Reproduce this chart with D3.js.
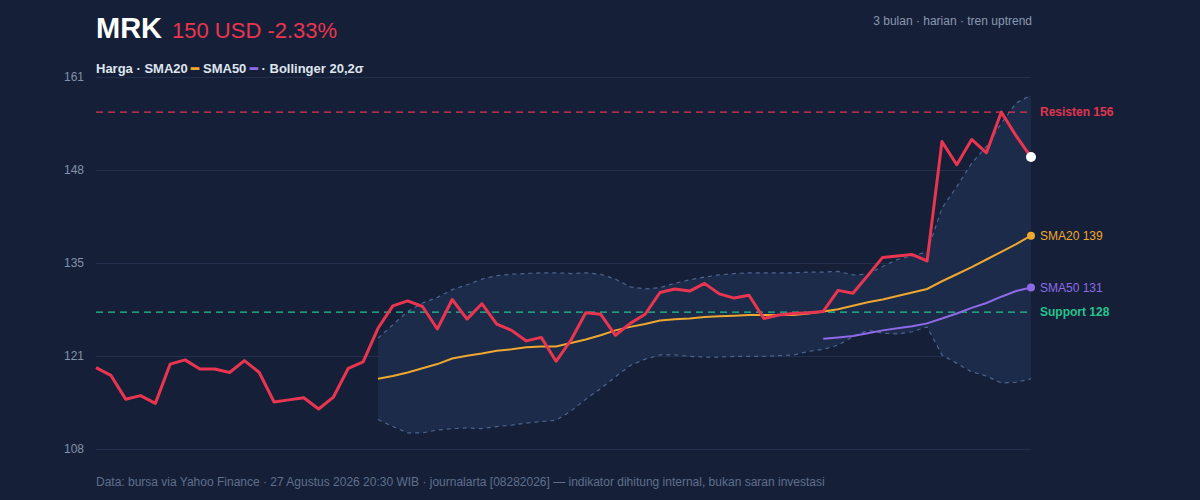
<!DOCTYPE html>
<html>
<head>
<meta charset="utf-8">
<script src="https://cdn.jsdelivr.net/npm/d3@7"></script>
<style>
  body { margin: 0; background: #152038; }
  svg { display: block; font-family: "Helvetica Neue", Arial, "Liberation Sans", sans-serif; }
</style>
</head>
<body>
<svg id="chart" width="1200" height="500"></svg>
<script>
// harga penutupan harian (64 hari)
const price = [119.6, 118.5, 115.1, 115.6, 114.5, 120.1, 120.7, 119.4, 119.4, 118.9,
  120.6, 118.9, 114.7, 115.0, 115.3, 113.7, 115.4, 119.5, 120.4, 125.2,
  128.4, 129.1, 128.3, 125.1, 129.3, 126.5, 128.7, 125.8, 124.9, 123.4,
  123.9, 120.5, 123.5, 127.4, 127.2, 124.2, 125.9, 127.2, 130.3, 130.8,
  130.5, 131.6, 130.1, 129.5, 129.9, 126.6, 127.1, 127.3, 127.4, 127.6,
  130.6, 130.2, 132.7, 135.3, 135.5, 135.7, 134.8, 151.8, 148.5, 152.1,
  150.2, 156.0, 152.6, 149.6];
// SMA20 mulai hari ke-19
const sma20Start = 19;
const sma20 = [118.0, 118.4, 118.9, 119.5, 120.1, 120.9, 121.3, 121.6, 122.0, 122.2,
  122.5, 122.6, 122.6, 123.1, 123.6, 124.2, 124.9, 125.4, 125.8, 126.3,
  126.5, 126.6, 126.8, 126.9, 127.0, 127.1, 127.1, 127.1, 127.1, 127.3,
  127.6, 127.9, 128.4, 128.9, 129.3, 129.8, 130.3, 130.8, 131.9, 132.9,
  133.9, 135.0, 136.1, 137.2, 138.4];
// SMA50 mulai hari ke-49
const sma50Start = 49;
const sma50 = [123.7, 123.9, 124.1, 124.5, 124.9, 125.2, 125.5, 125.9, 126.6, 127.3,
  128.1, 128.8, 129.7, 130.5, 131.0];
// Bollinger 20,2σ
const bbUpper = [123.8, 125.7, 127.6, 128.8, 129.6, 130.7, 131.4, 132.2, 132.7, 132.9,
  133.0, 133.1, 133.1, 133.0, 133.1, 132.9, 132.2, 131.1, 130.8, 131.0,
  131.6, 132.1, 132.5, 132.8, 133.0, 133.1, 133.1, 133.1, 133.1, 133.2,
  133.2, 133.3, 132.8, 132.9, 134.0, 135.0, 135.5, 136.1, 142.3, 145.4,
  148.7, 151.1, 154.4, 157.3, 158.4];
const bbLower = [112.2, 111.2, 110.3, 110.3, 110.7, 110.9, 111.0, 110.9, 111.2, 111.4,
  111.7, 111.9, 112.1, 113.4, 115.1, 116.6, 118.3, 119.9, 120.8, 121.4,
  121.4, 121.2, 121.1, 121.1, 121.2, 121.2, 121.2, 121.3, 121.4, 121.9,
  122.2, 122.8, 124.0, 124.9, 124.5, 124.4, 124.7, 125.4, 121.4, 120.2,
  119.0, 118.4, 117.4, 117.5, 118.0];
const yTicks = [108, 121.25, 134.5, 147.75, 161];
const resistance = 156;
const support = 127.5;

const svg = d3.select('#chart');
const W = 1200, H = 500;
const x0 = 96, x1 = 1031, yTop = 77, yBot = 449;

svg.append('rect').attr('width', W).attr('height', H).attr('fill', '#152038');

const x = d3.scaleLinear().domain([0, price.length - 1]).range([x0, x1]);
const y = d3.scaleLinear().domain([108, 161]).range([yBot, yTop]);

// grid
const yAxis = d3.axisLeft(y).tickValues(yTicks).tickFormat(d3.format('.0f'))
  .tickSize(-(x1 - x0)).tickPadding(12);
const gy = svg.append('g').attr('transform', `translate(${x0},0)`).call(yAxis);
gy.select('.domain').remove();
gy.selectAll('.tick line').attr('stroke', '#222f4d').attr('stroke-width', 1.2);
gy.selectAll('.tick text').attr('fill', '#8391ab').attr('font-size', 12);

// bollinger band
const bbIdx = i => i + sma20Start;
const band = d3.area()
  .x((d, i) => x(bbIdx(i)))
  .y0((d, i) => y(bbLower[i]))
  .y1(d => y(d));
svg.append('path').datum(bbUpper).attr('d', band).attr('fill', '#1d2b4a');
const bbLine = arr => d3.line().x((d, i) => x(bbIdx(i))).y(d => y(d))(arr);
[bbUpper, bbLower].forEach(arr => {
  svg.append('path').attr('d', bbLine(arr)).attr('fill', 'none')
    .attr('stroke', '#4b6491').attr('stroke-width', 1.2).attr('stroke-dasharray', '4,4');
});

// support / resistance
[[resistance, '#e0344f', 'Resisten 156'], [support, '#27c28c', 'Support 128']].forEach(([v, c, t]) => {
  svg.append('line').attr('x1', x0).attr('x2', x1).attr('y1', y(v)).attr('y2', y(v))
    .attr('stroke', c).attr('stroke-width', 1.3).attr('stroke-dasharray', '7,5');
  svg.append('text').attr('x', 1040).attr('y', y(v) + 4).attr('fill', c)
    .attr('font-size', 12).attr('font-weight', 'bold').text(t);
});

// SMA lines
const sma20Line = d3.line().x((d, i) => x(i + sma20Start)).y(d => y(d));
svg.append('path').attr('d', sma20Line(sma20)).attr('fill', 'none')
  .attr('stroke', '#eea72f').attr('stroke-width', 2);
const sma50Line = d3.line().x((d, i) => x(i + sma50Start)).y(d => y(d));
svg.append('path').attr('d', sma50Line(sma50)).attr('fill', 'none')
  .attr('stroke', '#8f6ae8').attr('stroke-width', 2);

// price
svg.append('path').attr('d', d3.line().x((d, i) => x(i)).y(d => y(d))(price))
  .attr('fill', 'none').attr('stroke', '#ea3550').attr('stroke-width', 3)
  .attr('stroke-linejoin', 'round');

// end markers
const last = price.length - 1;
svg.append('circle').attr('cx', x(last)).attr('cy', y(sma20[sma20.length - 1])).attr('r', 4).attr('fill', '#eea72f');
svg.append('text').attr('x', 1040).attr('y', y(sma20[sma20.length - 1]) + 4).attr('fill', '#eea72f')
  .attr('font-size', 12).text('SMA20 139');
svg.append('circle').attr('cx', x(last)).attr('cy', y(sma50[sma50.length - 1])).attr('r', 4).attr('fill', '#8f6ae8');
svg.append('text').attr('x', 1040).attr('y', y(sma50[sma50.length - 1]) + 4).attr('fill', '#8f6ae8')
  .attr('font-size', 12).text('SMA50 131');
svg.append('circle').attr('cx', x(last)).attr('cy', y(price[last])).attr('r', 5).attr('fill', '#ffffff');

// header
const title = svg.append('text').attr('x', 96).attr('y', 38);
title.append('tspan').attr('fill', '#ffffff').attr('font-size', 29).attr('font-weight', 'bold').text('MRK');
title.append('tspan').attr('dx', 10).attr('fill', '#ea3550').attr('font-size', 22).text('150 USD -2.33%');
svg.append('text').attr('x', 1032).attr('y', 25).attr('text-anchor', 'end')
  .attr('fill', '#8a97b0').attr('font-size', 12).text('3 bulan · harian · tren uptrend');

const leg = svg.append('text').attr('x', 96).attr('y', 73).attr('font-size', 13)
  .attr('font-weight', 'bold').attr('fill', '#dfe5ef');
leg.append('tspan').text('Harga · SMA20 ');
leg.append('tspan').attr('fill', '#eea72f').text('━');
leg.append('tspan').text(' SMA50 ');
leg.append('tspan').attr('fill', '#8f6ae8').text('━');
leg.append('tspan').text(' · Bollinger 20,2σ');

svg.append('text').attr('x', 96).attr('y', 486).attr('fill', '#5f6f8c').attr('font-size', 12)
  .text('Data: bursa via Yahoo Finance · 27 Agustus 2026 20:30 WIB · journalarta [08282026] — indikator dihitung internal, bukan saran investasi');
</script>
</body>
</html>
